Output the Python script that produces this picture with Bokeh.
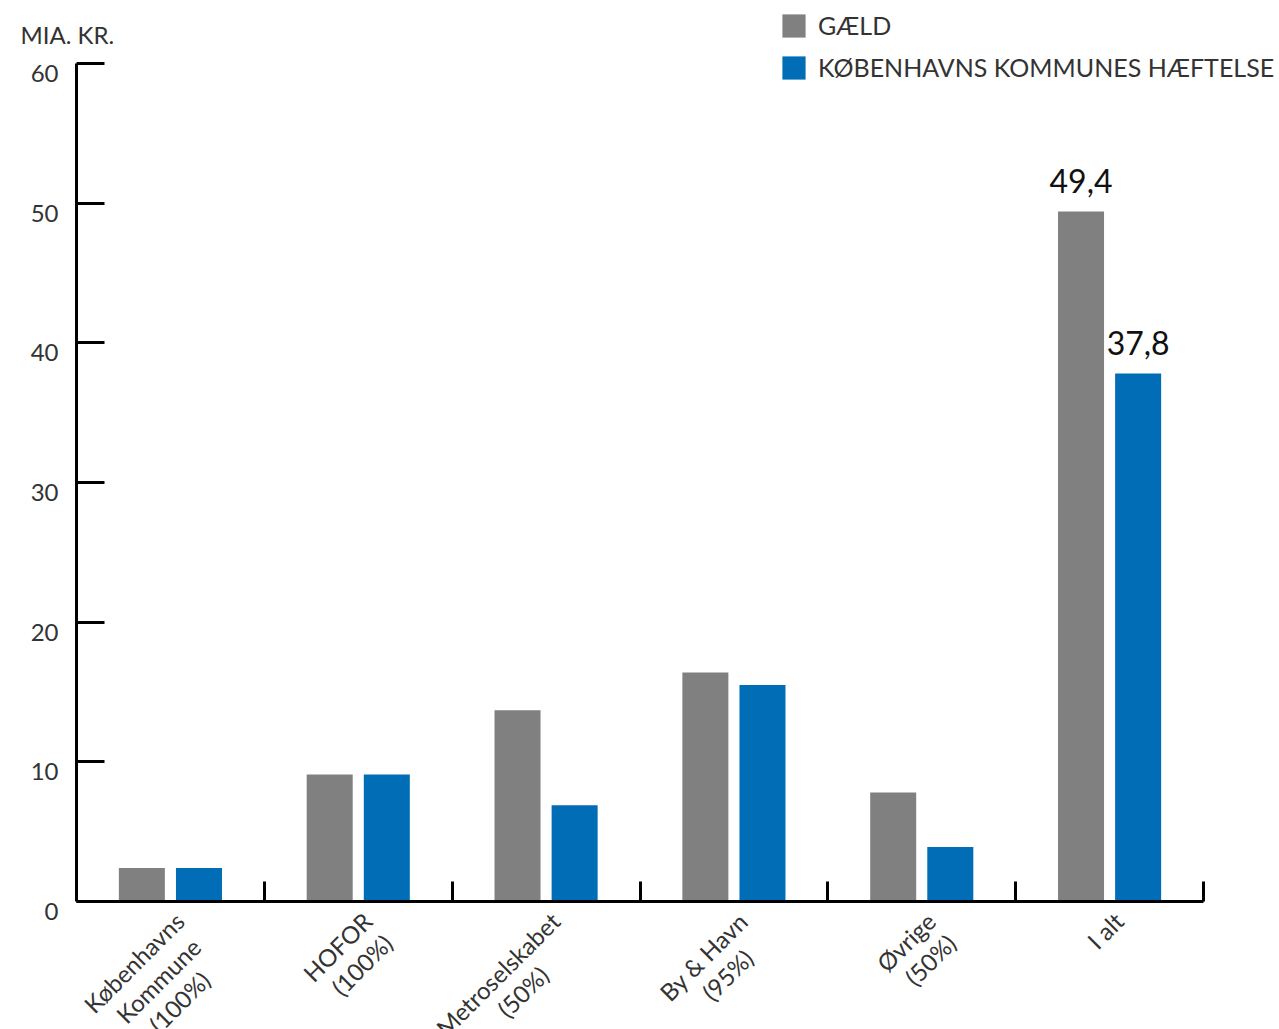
import numpy as np
from bokeh.plotting import figure
from bokeh.models import (ColumnDataSource, Range1d, FixedTicker, LabelSet, Label, Legend, LegendItem,
                          LinearAxis)
from bokeh.transform import dodge
from bokeh.embed import file_html
from bokeh.resources import INLINE
from bokeh.core.properties import value

# ---- data ----
categories = ["Københavns Kommune", "HOFOR", "Metroselskabet", "By & Havn", "Øvrige", "I alt"]
category_labels = ["Københavns\nKommune\n(100%)", "HOFOR\n(100%)", "Metroselskabet\n(50%)",
                   "By & Havn\n(95%)", "Øvrige\n(50%)", "I alt"]
gaeld = [2.4, 9.1, 13.7, 16.4, 7.8, 49.4]
haeftelse = [2.4, 9.1, 6.9, 15.5, 3.9, 37.8]
y_ticks = [0, 10, 20, 30, 40, 50, 60]
series_names = ["GÆLD", "KØBENHAVNS KOMMUNES HÆFTELSE"]
unit_label = "MIA. KR."

GRAY = "#808080"
BLUE = "#006DB6"
FONT = "Lato"
TXT = "#333333"

# ---- layout (pixels) ----
W, H = 1279, 1029
AX_L, AX_R, AX_T, AX_B = 76, 1203, 63, 901   # where the axes box sits on the canvas

n = len(categories)
ymax = y_ticks[-1]
sx = (AX_R - AX_L) / n
sy = (AX_B - AX_T) / ymax
x_range = Range1d(-AX_L / sx, n + (W - AX_R) / sx)
y_range = Range1d(-(H - AX_B) / sy, ymax + AX_T / sy)

centers = np.arange(n) + 0.5
src = ColumnDataSource(dict(x=centers, gaeld=gaeld, haeftelse=haeftelse))

p = figure(width=W, height=H, x_range=x_range, y_range=y_range,
           x_axis_type=None, y_axis_type=None,
           output_backend="svg", toolbar_location=None,
           min_border_left=0, min_border_right=0, min_border_top=0, min_border_bottom=0)
p.outline_line_color = None
p.grid.grid_line_color = None
p.background_fill_color = "white"
p.border_fill_color = "white"

r1 = p.vbar(x=dodge("x", -0.152), top="gaeld", width=0.245, source=src,
            fill_color=GRAY, line_color=None)
r2 = p.vbar(x=dodge("x", 0.152), top="haeftelse", width=0.245, source=src,
            fill_color=BLUE, line_color=None)

# y axis fixed at x = 0
ya = LinearAxis(fixed_location=0, bounds=(0, ymax), ticker=FixedTicker(ticks=y_ticks))
ya.minor_tick_line_color = None
ya.major_tick_in = 28
ya.major_tick_out = 0
ya.axis_line_width = 3
ya.major_tick_line_width = 3
ya.axis_line_color = "black"
ya.major_tick_line_color = "black"
ya.major_label_text_color = None
p.add_layout(ya, "left")

# x axis fixed at y = 0, ticks on category boundaries
xa = LinearAxis(fixed_location=0, bounds=(0, n), ticker=FixedTicker(ticks=list(range(1, n + 1))))
xa.major_tick_in = 20
xa.major_tick_out = 0
xa.minor_tick_line_color = None
xa.axis_line_width = 3
xa.major_tick_line_width = 3
xa.axis_line_color = "black"
xa.major_tick_line_color = "black"
xa.major_label_text_color = None
p.add_layout(xa, "below")

# y tick labels
ysrc = ColumnDataSource(dict(x=[0] * len(y_ticks), y=y_ticks, t=[str(v) for v in y_ticks]))
p.add_layout(LabelSet(x="x", y="y", text="t", source=ysrc, x_offset=-18, y_offset=-10,
                      text_align="right", text_baseline="middle",
                      text_font=value(FONT), text_font_size="24px", text_color=TXT))

# unit label
p.add_layout(Label(x=0, y=ymax, text=unit_label, x_offset=-56, y_offset=29,
                   text_align="left", text_baseline="alphabetic",
                   text_font=FONT, text_font_size="24px", text_color=TXT))

# ---- rotated category labels, lines centred under the first line ----
LBL_FS = 24
def est_width(s, fs=LBL_FS):
    em = {"i": .23, "j": .23, "l": .23, "I": .28, "r": .35, "t": .35, "f": .32, " ": .26,
          "(": .3, ")": .3, "%": .82, "&": .7, "m": .82, "w": .78, "M": .85, "W": .9,
          "ø": .55, "Ø": .78, "s": .43, "k": .5, "v": .5, "y": .5}
    tot = 0.0
    for c in s:
        if c in em:
            tot += em[c]
        elif c.isdigit():
            tot += .58
        elif c.isupper():
            tot += .7
        else:
            tot += .53
    return tot * fs

ANCHOR = (-1.0, 5.0)     # top-right of first line, px right/down of slot centre on the axis
LINE = 30.0              # line pitch, px
d = np.array([np.cos(np.pi / 4), -np.sin(np.pi / 4)])   # reading direction (screen, y down)
pp = np.array([np.sin(np.pi / 4), np.cos(np.pi / 4)])   # next-line direction (screen, y down)

first = dict(x=[], y=[], t=[])
rest = dict(x=[], y=[], t=[], xo=[], yo=[])
for cx, lab in zip(centers, category_labels):
    lines = lab.split("\n")
    first["x"].append(cx); first["y"].append(0); first["t"].append(lines[0])
    w1 = est_width(lines[0])
    for k, line in enumerate(lines[1:], start=1):
        pos = np.array(ANCHOR) - (w1 / 2) * d + k * LINE * pp + 4 * d
        rest["x"].append(cx); rest["y"].append(0); rest["t"].append(line)
        rest["xo"].append(float(pos[0])); rest["yo"].append(float(-pos[1]))

p.add_layout(LabelSet(x="x", y="y", text="t", source=ColumnDataSource(first),
                      x_offset=ANCHOR[0], y_offset=-ANCHOR[1],
                      angle=45, angle_units="deg", text_align="right", text_baseline="top",
                      text_font=value(FONT), text_font_size=f"{LBL_FS}px", text_color=TXT))
p.add_layout(LabelSet(x="x", y="y", text="t", source=ColumnDataSource(rest),
                      x_offset="xo", y_offset="yo",
                      angle=45, angle_units="deg", text_align="center", text_baseline="top",
                      text_font=value(FONT), text_font_size=f"{LBL_FS}px", text_color=TXT))

# total value labels
fmt = lambda v: f"{v:.1f}".replace(".", ",")
tot_src = ColumnDataSource(dict(x=[centers[-1]], g=[gaeld[-1]], h=[haeftelse[-1]],
                                gt=[fmt(gaeld[-1])], ht=[fmt(haeftelse[-1])]))
p.add_layout(LabelSet(x=dodge("x", -0.152), y="g", text="gt", source=tot_src,
                      y_offset=19, text_align="center", text_baseline="alphabetic",
                      text_font=value(FONT), text_font_size="32px", text_color="#111111"))
p.add_layout(LabelSet(x=dodge("x", 0.152), y="h", text="ht", source=tot_src,
                      y_offset=19, text_align="center", text_baseline="alphabetic",
                      text_font=value(FONT), text_font_size="32px", text_color="#111111"))

legend = Legend(items=[LegendItem(label=series_names[0], renderers=[r1]),
                       LegendItem(label=series_names[1], renderers=[r2])],
                location=(779, 947), orientation="vertical",
                border_line_color=None, background_fill_alpha=0, padding=0, margin=0,
                glyph_width=29, glyph_height=29, label_standoff=10, spacing=12,
                label_text_font=FONT, label_text_font_size="25px", label_text_color=TXT)
p.add_layout(legend)

open("out.html", "w").write(file_html(p, INLINE))
